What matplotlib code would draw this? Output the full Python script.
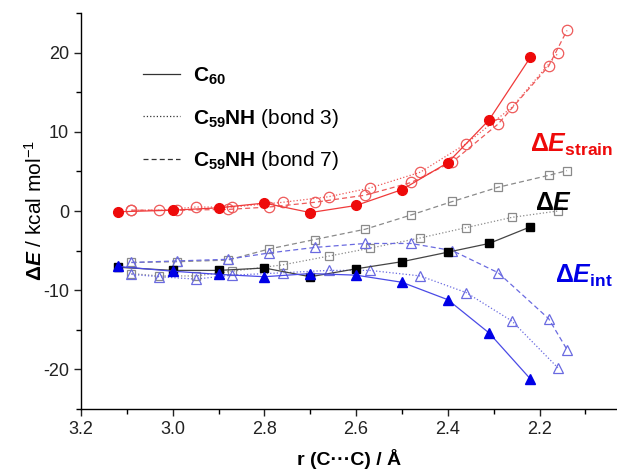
import matplotlib
matplotlib.use("Agg")
import matplotlib.pyplot as plt
from matplotlib.ticker import MultipleLocator

plt.rcParams['font.family'] = ['Liberation Sans', 'DejaVu Sans']
plt.rcParams['mathtext.fontset'] = 'custom'
plt.rcParams['mathtext.rm'] = 'Liberation Sans'
plt.rcParams['mathtext.it'] = 'Liberation Sans:italic:bold'
plt.rcParams['mathtext.bf'] = 'Liberation Sans:bold'
plt.rcParams['axes.unicode_minus'] = False

# ---- data ----
r_c60 = [3.12, 3.00, 2.90, 2.80, 2.70, 2.60, 2.50, 2.40, 2.31, 2.22]
strain_c60 = [-0.1, 0.1, 0.4, 1.0, -0.2, 0.7, 2.7, 6.1, 11.5, 19.4]
dE_c60 = [-7.1, -7.5, -7.5, -7.2, -8.3, -7.3, -6.4, -5.2, -4.1, -2.0]
int_c60 = [-7.0, -7.6, -8.0, -8.3, -7.9, -8.1, -9.0, -11.2, -15.4, -21.2]

r_b3 = [3.09, 3.03, 2.95, 2.87, 2.76, 2.66, 2.57, 2.46, 2.36, 2.26, 2.16]
strain_b3 = [0.1, 0.1, 0.5, 0.5, 1.1, 1.8, 2.9, 4.9, 8.5, 13.1, 19.9]
dE_b3 = [-7.9, -8.2, -8.2, -7.6, -6.8, -5.7, -4.7, -3.4, -2.1, -0.8, 0.0]
int_b3 = [-8.0, -8.3, -8.6, -8.1, -7.8, -7.5, -7.5, -8.2, -10.3, -13.9, -19.8]

r_b7 = [3.09, 2.99, 2.88, 2.79, 2.69, 2.58, 2.48, 2.39, 2.29, 2.18, 2.14]
strain_b7 = [0.1, 0.1, 0.2, 0.5, 1.1, 2.0, 3.6, 6.2, 11.0, 18.3, 22.8]
dE_b7 = [-6.5, -6.4, -6.2, -4.8, -3.6, -2.3, -0.5, 1.2, 3.0, 4.5, 5.1]
int_b7 = [-6.5, -6.3, -6.1, -5.3, -4.6, -4.1, -4.1, -5.0, -7.8, -13.6, -17.5]

legend_labels = [r'$\mathbf{C_{60}}$', r'$\mathbf{C_{59}NH}$ (bond 3)', r'$\mathbf{C_{59}NH}$ (bond 7)']

fig = plt.figure(figsize=(6.17, 4.74), dpi=100)
ax = fig.add_axes([81/617, 65/474, 1 - 81/617, (409-13)/474])

red_f, red_o = '#ee0a0a', '#ee5a5a'
blk_f, gry_o = '#000000', '#8a8a8a'
blu_f, blu_o = '#0000e6', '#6a6ae0'

lw = 0.9
# C60 solid
ax.plot(r_c60, strain_c60, '-', color='#f03a3a', lw=lw, marker='o', ms=7, mfc=red_f, mec=red_f, zorder=5)
ax.plot(r_c60, dE_c60, '-', color='#444444', lw=lw, marker='s', ms=5.5, mfc=blk_f, mec=blk_f, zorder=5)
ax.plot(r_c60, int_c60, '-', color='#4a4ae6', lw=lw, marker='^', ms=7, mfc=blu_f, mec=blu_f, zorder=5)
# bond 3 dotted
ax.plot(r_b3, strain_b3, ':', color=red_o, lw=lw, marker='o', ms=7.5, mfc='none', mec=red_o, mew=0.9)
ax.plot(r_b3, dE_b3, ':', color=gry_o, lw=lw, marker='s', ms=6, mfc='none', mec=gry_o, mew=0.9)
ax.plot(r_b3, int_b3, ':', color=blu_o, lw=lw, marker='^', ms=7.5, mfc='none', mec=blu_o, mew=0.9)
# bond 7 dashed
ax.plot(r_b7, strain_b7, '--', color=red_o, lw=lw, marker='o', ms=7.5, mfc='none', mec=red_o, mew=0.9, dashes=(4, 2.5))
ax.plot(r_b7, dE_b7, '--', color=gry_o, lw=lw, marker='s', ms=6, mfc='none', mec=gry_o, mew=0.9, dashes=(4, 2.5))
ax.plot(r_b7, int_b7, '--', color=blu_o, lw=lw, marker='^', ms=7.5, mfc='none', mec=blu_o, mew=0.9, dashes=(4, 2.5))

# legend proxies
h1, = ax.plot([], [], '-', color='#333333', lw=0.9)
h2, = ax.plot([], [], ':', color='#333333', lw=0.9)
h3, = ax.plot([], [], '--', color='#333333', lw=0.9, dashes=(4, 2.5))
ax.legend([h1, h2, h3], legend_labels, loc='upper left', bbox_to_anchor=(0.08, 0.915),
          frameon=False, fontsize=15, handlelength=1.8, labelspacing=0.95, handletextpad=0.6)

ax.text(2.040, 8.3, r'$\mathbf{\Delta}E_{\mathbf{strain}}$', color='#ee0a0a', fontsize=18, ha='right', va='center')
ax.text(2.128, 1.0, r'$\mathbf{\Delta}E$', color='black', fontsize=18, ha='right', va='center')
ax.text(2.040, -8.2, r'$\mathbf{\Delta}E_{\mathbf{int}}$', color='#0000e6', fontsize=18, ha='right', va='center')

ax.set_xlim(3.2, 2.031)
ax.set_ylim(-25, 25)
ax.xaxis.set_major_locator(MultipleLocator(0.2))
ax.xaxis.set_minor_locator(MultipleLocator(0.1))
ax.yaxis.set_major_locator(MultipleLocator(10))
ax.yaxis.set_minor_locator(MultipleLocator(5))
ax.xaxis.set_major_formatter(plt.FuncFormatter(lambda v, p: f'{v:.1f}'))
ax.yaxis.set_major_formatter(plt.FuncFormatter(lambda v, p: f'{v:.0f}'))
for s in ['top', 'right']:
    ax.spines[s].set_visible(False)
for s in ['left', 'bottom']:
    ax.spines[s].set_linewidth(1.0)
ax.tick_params(which='major', direction='out', length=5, width=1.0, labelsize=13, colors='#222222')
ax.tick_params(which='minor', direction='out', length=3.5, width=1.0)

ax.set_xlabel('r (C\u00b7\u00b7\u00b7C) / \u00c5', fontsize=14, fontweight='bold', labelpad=8)
ax.set_ylabel(r'$\mathbf{\Delta}E$ / kcal mol$^{-1}$', fontsize=15, labelpad=-2)

fig.savefig('out.png', dpi=100)
